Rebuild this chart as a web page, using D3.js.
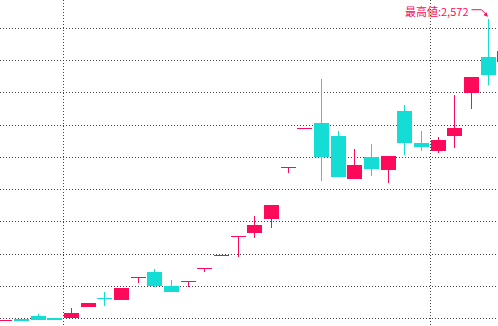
<!DOCTYPE html>
<html>
<head>
<meta charset="utf-8">
<script src="https://cdn.jsdelivr.net/npm/d3@7"></script>
<style>
  html, body { margin: 0; padding: 0; background: #fff; }
  svg { display: block; }
</style>
</head>
<body>
<svg id="chart" width="498" height="326"></svg>
<script>
// ---- data ----
const periods = d3.range(1, 32);               // 31 consecutive periods
const opens  = [235, 242, 266, 252, 252, 338, 406, 392, 568, 607, 498, 537, 636, 736, 884, 912, 1020, 1422, 1722, 1765, 1662, 1328, 1499, 1398, 1856, 1608, 1546, 1662, 1996, 2275, 2236];
const highs  = [235, 242, 281, 252, 328, 369, 452, 483, 568, 630, 545, 537, 636, 736, 884, 1041, 1127, 1422, 1722, 2104, 1701, 1561, 1600, 1507, 1903, 1701, 1654, 1980, 2120, 2572, 2322];
const lows   = [235, 227, 235, 237, 248, 338, 345, 392, 522, 493, 454, 493, 609, 736, 721, 873, 951, 1375, 1722, 1313, 1344, 1328, 1352, 1297, 1515, 1546, 1530, 1569, 1872, 2058, 2236];
const closes = [235, 227, 235, 237, 291, 369, 404, 483, 568, 501, 454, 537, 636, 736, 884, 972, 1127, 1422, 1722, 1499, 1344, 1437, 1406, 1507, 1608, 1577, 1631, 1724, 2120, 2135, 2322];
const gridValues = [250, 500, 750, 1000, 1250, 1500, 1750, 2000, 2250, 2500];
const dividerPositions = [3.5, 25.5];          // between periods (0-based)
const highLabel = "最高値:2,572";

const UP = "#ff0a5b", DOWN = "#14ddd6", GRID = "#444";

const data = periods.map((p, i) => ({ p, i, o: opens[i], h: highs[i], l: lows[i], c: closes[i] }));

const svg = d3.select("#chart");
const x = d3.scaleLinear().domain([0, 30]).range([4.83, 504.83]);
const y = d3.scaleLinear().domain([250, 2500]).range([318, 28]);
const cx = i => Math.floor(x(i)) + 0.5;

// grid
svg.append("g").selectAll("line").data(gridValues).join("line")
  .attr("x1", 0).attr("x2", 498)
  .attr("y1", d => Math.round(y(d)) + 0.5).attr("y2", d => Math.round(y(d)) + 0.5)
  .attr("stroke", GRID).attr("stroke-width", 1).attr("stroke-dasharray", "1,2");
svg.append("g").selectAll("line").data(dividerPositions).join("line")
  .attr("y1", 0).attr("y2", 326)
  .attr("x1", d => Math.round(x(d)) + 0.5).attr("x2", d => Math.round(x(d)) + 0.5)
  .attr("stroke", GRID).attr("stroke-width", 1).attr("stroke-dasharray", "1,2");

// candles
const colorOf = d => d.c > d.o ? UP : (d.c < d.o ? DOWN : UP);
const g = svg.append("g");
g.selectAll("line.wick").data(data.filter(d => d.h > d.l)).join("line")
  .attr("class", "wick")
  .attr("x1", d => cx(d.i)).attr("x2", d => cx(d.i))
  .attr("y1", d => y(d.h)).attr("y2", d => y(d.l))
  .attr("stroke", colorOf).attr("stroke-width", 1).attr("shape-rendering", "crispEdges");
g.selectAll("rect.body").data(data).join("rect")
  .attr("class", "body")
  .attr("x", d => cx(d.i) - 7.5).attr("width", 15)
  .attr("y", d => Math.round(y(Math.max(d.o, d.c))))
  .attr("height", d => Math.max(1, Math.round(Math.abs(y(d.o) - y(d.c)))))
  .attr("fill", colorOf).attr("shape-rendering", "crispEdges");

// max annotation
const peak = data.reduce((a, b) => b.h > a.h ? b : a);
const tx = cx(peak.i), ty = y(peak.h);
svg.append("text")
  .attr("x", tx - 20).attr("y", ty - 2.5)
  .attr("text-anchor", "end")
  .attr("font-family", "'Noto Sans CJK JP', 'Noto Sans', sans-serif")
  .attr("font-size", 11)
  .attr("fill", UP)
  .text(highLabel);
svg.append("path")
  .attr("d", `M${tx - 17},${ty - 9} H${tx - 7} L${tx - 2},${ty - 4}`)
  .attr("fill", "none").attr("stroke", UP).attr("stroke-width", 1);
svg.append("path")
  .attr("d", `M${tx - 0.5},${ty - 2} L${tx - 5},${ty - 3.5} L${tx - 2},${ty - 6.5} Z`)
  .attr("fill", UP);
</script>
</body>
</html>
